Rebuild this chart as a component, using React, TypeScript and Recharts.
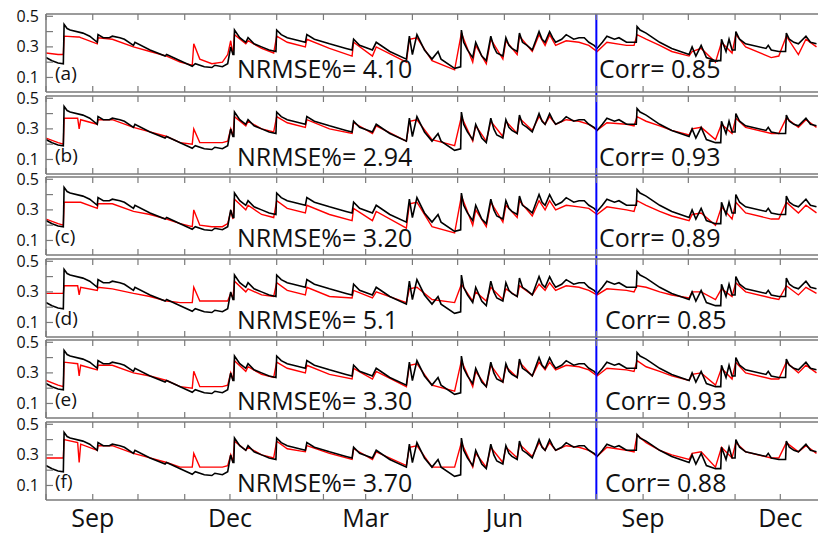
import React from 'react'
import { LineChart, Line, XAxis, YAxis, ReferenceLine } from 'recharts'

// day 0 = 1 Aug (year 1); x axis runs to late Dec of year 2
const monthTicks = [0, 31, 61, 92, 122, 153, 184, 212, 243, 273, 304, 334, 365, 396, 426, 457, 487]
const labelDays = [31, 122, 212, 304, 396, 487]
const labelNames = ['Sep', 'Dec', 'Mar', 'Jun', 'Sep', 'Dec']
const yTicks = [0.1, 0.2, 0.3, 0.4, 0.5]
const yLabelled = [0.1, 0.3, 0.5]
const splitDay = 365

// observed soil moisture (black), same in every panel: [day, value]
const observed: [number, number][] = [
  [0, .23], [4, .21], [8, .195], [11.5, .19], [12, .447], [14, .42], [16, .41], [24.5, .39], [29, .37], [34, .33],
  [34.5, .38], [38, .36], [42, .36], [44, .37], [49, .36], [52, .35], [58, .31], [59, .33], [69, .28], [79, .24],
  [80, .25], [89, .21], [97, .173], [99, .19], [105, .17], [110, .165], [112, .18], [117, .17], [120.5, .19], [122.5, .3],
  [124, .25], [124.6, .25], [125, .41], [128.5, .36], [132.5, .33], [134, .36], [138, .32], [143, .30], [148, .28], [152.5, .27],
  [153, .41], [156, .38], [160, .36], [168, .34], [172, .33], [173, .38], [178, .35], [188, .32], [199, .29], [203, .28], [204, .35],
  [208, .31], [216.5, .28], [219, .33], [228, .27], [239, .22], [241, .37], [243, .25], [246, .38], [251, .28], [256, .22],
  [260, .27], [262, .22], [271, .16], [275, .17], [275.5, .41], [277, .33], [279.5, .28], [283, .23], [285, .33], [289, .24], [292, .21],
  [295, .37], [297, .30], [299, .26], [303, .24], [305, .36], [307, .31], [309, .29], [312.5, .27], [314, .39], [316, .33], [319, .31],
  [322.5, .28], [327, .40], [329, .35], [331, .33], [334, .40], [336, .36], [338, .33], [342, .35], [345, .38], [350, .35],
  [353.5, .36], [357, .36], [360, .33], [363.5, .31], [365.5, .29], [369, .33], [372, .37], [377, .35], [380, .36], [385, .33],
  [391.5, .33], [392, .433], [394, .41], [398, .39], [407, .33], [415, .29], [426.5, .25], [428.5, .30], [431, .24], [434.5, .31],
  [438, .23], [444, .21], [447.5, .21], [448, .35], [451, .27], [453, .35], [455, .28], [457, .28], [457.5, .40], [460, .35],
  [464, .32], [477.5, .29], [479, .31], [481, .28], [486, .27], [490.5, .27], [491, .39], [493, .35], [496, .33], [499, .32],
  [504, .37], [507, .33], [511, .32],
]

// estimated series (red), one per panel, sampled on these days
const estDays = [
  0, 8, 11.5, 12, 21, 22, 23, 34, 34.5, 44, 58, 69, 80, 89, 97, 98, 102, 110, 117, 120.5,
  122.5, 124, 125, 132.5, 134, 143, 151, 153, 160, 172, 173, 188, 203, 204, 216.5, 219, 239, 241, 246, 256,
  271, 275.5, 283, 285, 292, 295, 303, 305, 312.5, 314, 322.5, 327, 331, 334, 338, 345, 353.5, 360, 365.5, 372,
  385, 390, 392, 398, 407, 415, 426.5, 428.5, 434.5, 444, 448, 455, 457.5, 464, 481, 486, 491, 499, 504, 511,
]
const estA = [
  .26, .25, .25, .37, .365, .365, .36, .32, .36, .35, .30, .27, .24, .20, .18, .32, .22, .19, .20, .25,
  .34, .25, .38, .32, .34, .29, .26, .37, .33, .30, .35, .29, .24, .33, .24, .30, .20, .35, .36, .21,
  .15, .39, .20, .31, .19, .35, .22, .34, .25, .37, .27, .38, .31, .38, .31, .34, .33, .31, .27, .33,
  .31, .31, .38, .35, .31, .27, .24, .27, .29, .20, .33, .26, .38, .30, .23, .24, .37, .25, .35, .30,
]
const estB = [
  .24, .21, .20, .37, .37, .30, .36, .33, .36, .36, .31, .28, .25, .21, .20, .30, .21, .21, .21, .22,
  .30, .25, .38, .32, .35, .30, .28, .38, .34, .31, .36, .30, .27, .34, .27, .32, .22, .35, .36, .23,
  .19, .38, .22, .32, .22, .35, .25, .35, .27, .37, .29, .38, .33, .38, .33, .36, .35, .33, .29, .34,
  .33, .32, .38, .35, .32, .29, .26, .30, .31, .23, .33, .27, .37, .31, .27, .27, .37, .31, .36, .31,
]
const estC = [
  .24, .21, .20, .35, .35, .35, .35, .31, .34, .34, .29, .27, .24, .21, .19, .30, .20, .19, .19, .21,
  .29, .24, .37, .30, .33, .27, .25, .36, .31, .28, .33, .27, .23, .31, .23, .29, .18, .34, .35, .19,
  .15, .39, .20, .30, .19, .35, .22, .33, .25, .36, .26, .36, .30, .36, .30, .33, .32, .31, .27, .32,
  .30, .29, .36, .33, .29, .26, .23, .27, .28, .20, .32, .24, .35, .28, .24, .24, .35, .28, .33, .28,
]
const estD = [
  .29, .29, .29, .34, .34, .28, .33, .31, .33, .32, .29, .27, .24, .23, .23, .33, .24, .24, .24, .24,
  .29, .26, .37, .30, .32, .28, .27, .36, .31, .28, .33, .27, .26, .31, .26, .30, .23, .32, .33, .25,
  .23, .35, .24, .30, .24, .33, .25, .32, .27, .34, .28, .35, .31, .36, .31, .34, .33, .31, .28, .32,
  .31, .30, .34, .33, .30, .28, .26, .30, .30, .25, .32, .27, .36, .30, .26, .25, .34, .28, .33, .29,
]
const estE = [
  .25, .22, .21, .37, .36, .28, .35, .32, .35, .35, .30, .28, .25, .21, .20, .31, .21, .21, .21, .22,
  .30, .25, .38, .31, .34, .29, .27, .37, .33, .30, .35, .29, .26, .33, .26, .31, .21, .35, .36, .22,
  .18, .38, .21, .31, .21, .35, .24, .34, .27, .37, .28, .37, .32, .37, .32, .35, .34, .32, .28, .33,
  .32, .31, .38, .34, .31, .28, .25, .29, .30, .22, .33, .26, .37, .30, .26, .26, .37, .30, .35, .30,
]
const estF = [
  .28, .28, .28, .40, .38, .25, .37, .33, .36, .36, .31, .28, .25, .22, .22, .31, .22, .22, .22, .23,
  .30, .25, .39, .33, .35, .30, .28, .39, .34, .32, .36, .31, .27, .34, .27, .32, .23, .35, .36, .22,
  .22, .38, .22, .31, .22, .35, .25, .35, .28, .37, .29, .38, .33, .38, .33, .36, .35, .33, .29, .35,
  .33, .32, .43, .38, .33, .30, .27, .31, .32, .22, .35, .28, .38, .32, .28, .28, .38, .32, .36, .31,
]

const panelNames = ['(a)', '(b)', '(c)', '(d)', '(e)', '(f)']
const nrmse = ['4.10', '2.94', '3.20', '5.1', '3.30', '3.70']
const corr = ['0.85', '0.93', '0.89', '0.85', '0.93', '0.88']
const estimates = [estA, estB, estC, estD, estE, estF]

const W = 818
const LEFT = 46
const PLOT_H = 77
const PITCH = 81.5
const FIRST_TOP = 14
const PAD = 12
const AXIS = '#7a7a7a'
const FONT = '"Open Sans", "DejaVu Sans", sans-serif'
const TICK = 6

const obsData = observed.map(([d, v]) => ({ d, v }))

const YTick = ({ x, y, payload }: any) => (
  <g>
    <line x1={x} x2={x + TICK + 1} y1={y} y2={y} stroke={AXIS} strokeWidth={1.2} />
    {yLabelled.includes(payload.value) && (
      <text x={x - 7} y={y} dy={5.5} textAnchor="end" fontSize={16} fontFamily={FONT} fill="#111">
        {payload.value.toFixed(1)}
      </text>
    )}
  </g>
)

// with tickSize/tickMargin 0 the tick's y is the axis line itself
const BottomTick = ({ x, y, payload, showLabels }: any) => {
  const i = labelDays.indexOf(payload.value)
  return (
    <g>
      <line x1={x} x2={x} y1={y} y2={y - TICK} stroke={AXIS} strokeWidth={1.2} />
      {showLabels && i >= 0 && (
        <text x={x} y={y + 27} textAnchor="middle" fontSize={25} fontFamily={FONT} fill="#111">
          {labelNames[i]}
        </text>
      )}
    </g>
  )
}

const TopTick = ({ x, y }: any) => (
  <line x1={x} x2={x} y1={y} y2={y + TICK} stroke={AXIS} strokeWidth={1.2} />
)

function Panel({ idx }: { idx: number }) {
  const last = idx === 5
  const top = FIRST_TOP + idx * PITCH
  const bottomGap = last ? 40 : PITCH - PLOT_H
  const est = estDays.map((d, i) => ({ d, v: estimates[idx][i] }))
  return (
    <div style={{ position: 'absolute', left: 0, top: top - PAD - 1 }}>
      <LineChart width={W} height={PLOT_H + 2 + PAD + bottomGap} margin={{ top: PAD, right: 0, bottom: bottomGap - 1, left: 0 }}>
        <XAxis
          xAxisId="b"
          dataKey="d"
          type="number"
          domain={[0, 512]}
          ticks={monthTicks}
          interval={0}
          allowDataOverflow
          height={1}
          tickSize={0}
          tickMargin={0}
          tickLine={false}
          axisLine={{ stroke: AXIS, strokeWidth: 1.5 }}
          tick={<BottomTick showLabels={last} />}
        />
        <XAxis
          xAxisId="t"
          orientation="top"
          dataKey="d"
          type="number"
          domain={[0, 512]}
          ticks={monthTicks}
          interval={0}
          allowDataOverflow
          height={1}
          tickSize={0}
          tickMargin={0}
          tickLine={false}
          axisLine={{ stroke: AXIS, strokeWidth: 1.5 }}
          tick={<TopTick />}
        />
        <YAxis
          type="number"
          domain={[0.005, 0.515]}
          ticks={yTicks}
          interval={0}
          allowDataOverflow
          width={LEFT}
          tickSize={0}
          tickMargin={0}
          tickLine={false}
          axisLine={{ stroke: AXIS, strokeWidth: 1.5 }}
          tick={<YTick />}
        />
        <Line
          xAxisId="b"
          data={est}
          dataKey="v"
          type="linear"
          stroke="#ff0000"
          strokeWidth={1.4}
          dot={false}
          isAnimationActive={false}
        />
        <Line
          xAxisId="b"
          data={obsData}
          dataKey="v"
          type="linear"
          stroke="#000000"
          strokeWidth={1.6}
          dot={false}
          isAnimationActive={false}
        />
        <ReferenceLine
          xAxisId="b"
          segment={[{ x: splitDay, y: last ? 0.005 : -0.03 }, { x: splitDay, y: 0.515 }]}
          ifOverflow="visible"
          stroke="#0000ff"
          strokeWidth={2}
        />
      </LineChart>
    </div>
  )
}

export default function App() {
  return (
    <div style={{ position: 'absolute', left: 0, top: 0, width: W, height: 536, background: '#fff' }}>
      {panelNames.map((_, i) => (
        <Panel key={i} idx={i} />
      ))}
      <svg width={W} height={536} style={{ position: 'absolute', left: 0, top: 0, pointerEvents: 'none' }}>
        {panelNames.map((name, i) => {
          const top = FIRST_TOP + i * PITCH
          return (
            <g key={i} fontFamily={FONT} fill="#111">
              <text x={55} y={top + 66} fontSize={19}>{name}</text>
              <text x={237} y={top + (i === 0 ? 64 : 70)} fontSize={25}>{`NRMSE%= ${nrmse[i]}`}</text>
              <text x={i < 3 ? 599 : 605} y={top + (i === 0 ? 64 : 70)} fontSize={25}>{`Corr= ${corr[i]}`}</text>
            </g>
          )
        })}
      </svg>
    </div>
  )
}
